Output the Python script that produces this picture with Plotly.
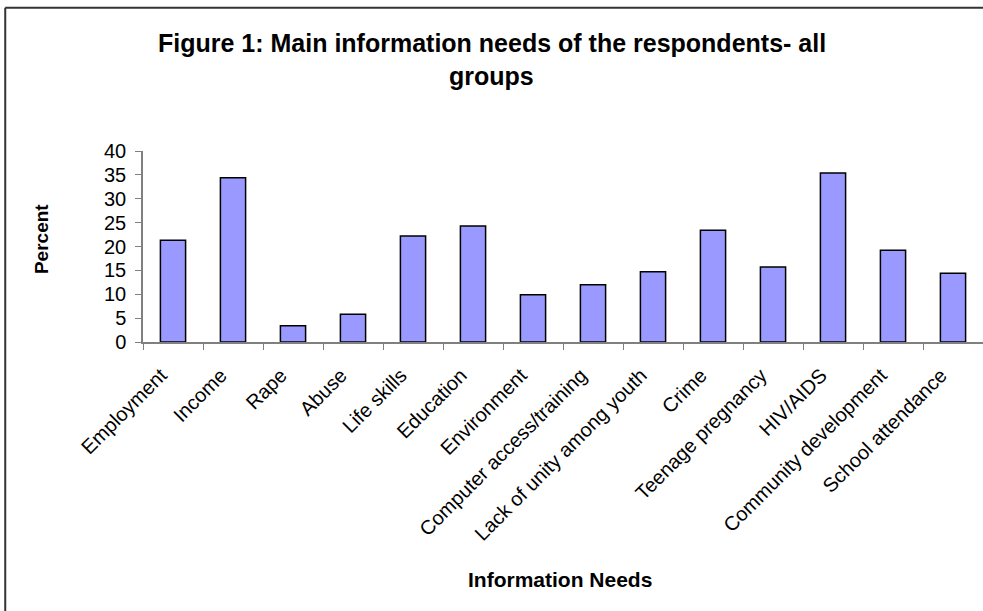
import plotly.graph_objects as go

# Survey results: share of respondents naming each information need
categories = [
    "Employment", "Income", "Rape", "Abuse", "Life skills", "Education",
    "Environment", "Computer access/training", "Lack of unity among youth",
    "Crime", "Teenage pregnancy", "HIV/AIDS", "Community development",
    "School attendance",
]
percent = [21.3, 34.4, 3.4, 5.8, 22.2, 24.3, 9.9, 12.0, 14.7, 23.4, 15.7, 35.4, 19.2, 14.4]
y_ticks = [0, 5, 10, 15, 20, 25, 30, 35, 40]

FONT = "Arial, Liberation Sans, sans-serif"

fig = go.Figure(
    go.Bar(
        x=categories,
        y=percent,
        marker=dict(color="#9999FF", line=dict(color="#000000", width=1.5)),
    )
)

# Chart frame (top and left edges)
frame = dict(color="#333333", width=2)
fig.add_shape(type="line", xref="paper", yref="paper",
              x0=-0.164, x1=1.0, y0=1.75, y1=1.75, line=frame)
fig.add_shape(type="line", xref="paper", yref="paper",
              x0=-0.164, x1=-0.164, y0=1.75, y1=-1.42, line=frame)

# Two-line chart title, centred on the chart area
title_font = dict(family=FONT, size=25, color="#000000")
fig.add_annotation(
    text="<b>Figure 1: Main information needs of the respondents- all</b>",
    xref="paper", yref="paper", x=0.415, y=1.563, xanchor="center", yanchor="middle",
    showarrow=False, font=title_font,
)
fig.add_annotation(
    text="<b>groups</b>",
    xref="paper", yref="paper", x=0.415, y=1.395, xanchor="center", yanchor="middle",
    showarrow=False, font=title_font,
)

# Axis titles
fig.add_annotation(
    text="<b>Information Needs</b>",
    xref="paper", yref="paper", x=0.497, y=-1.242, xanchor="center", yanchor="middle",
    showarrow=False, font=dict(family=FONT, size=21, color="#000000"),
)
fig.add_annotation(
    text="<b>Percent</b>", textangle=-90,
    xref="paper", yref="paper", x=-0.120, y=0.54, xanchor="center", yanchor="middle",
    showarrow=False, font=dict(family=FONT, size=19, color="#000000"),
)

fig.update_layout(
    width=983, height=611,
    margin=dict(l=143, r=0, t=151, b=269, pad=0),
    paper_bgcolor="#FFFFFF", plot_bgcolor="#FFFFFF",
    showlegend=False, bargap=0.58,
    font=dict(family=FONT, color="#000000"),
    xaxis=dict(
        tickangle=-45, tickfont=dict(size=20),
        ticklabelstandoff=12, ticklabelshift=-12,
        ticks="outside", tickson="boundaries", ticklen=6, tickcolor="#808080",
        showline=True, linecolor="#808080", linewidth=1.5, showgrid=False,
    ),
    yaxis=dict(
        range=[0, 40], tickvals=y_ticks, tickfont=dict(size=20), ticklabelstandoff=5,
        ticks="outside", ticklen=6, tickcolor="#808080",
        showline=True, linecolor="#808080", linewidth=1.5, showgrid=False,
        zeroline=False,
    ),
)

fig.write_html("out.html")
